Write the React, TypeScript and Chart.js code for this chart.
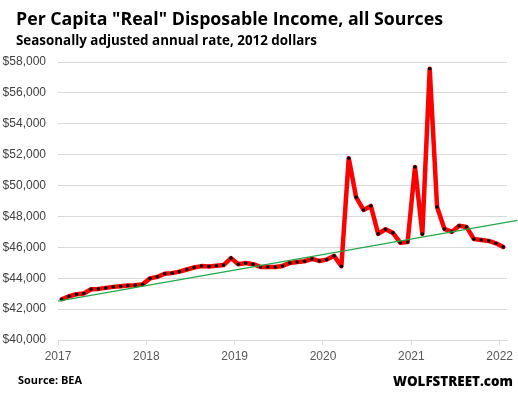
import React, { useEffect, useRef } from 'react';
import { Chart, registerables } from 'chart.js';

Chart.register(...registerables);

// ---- data ----
const yearLabels = ['2017', '2018', '2019', '2020', '2021', '2022'];
const yearTickMonths = [0, 12, 24, 36, 48, 60];

// Monthly, Jan 2017 .. Jan 2022 (2012 dollars, SAAR)
const incomeValues = [
  42640, 42835, 42965, 43010, 43290, 43310, 43375, 43440, 43480, 43530, 43550, 43610,
  43990, 44090, 44290, 44330, 44430, 44565, 44695, 44785, 44760, 44805, 44850, 45300,
  44900, 44990, 44906, 44730, 44730, 44730, 44795, 44990, 45055, 45100, 45250, 45120,
  45205, 45444, 44777, 51770, 49245, 48420, 48680, 46870, 47170, 46935, 46300, 46345,
  51200, 46870, 57560, 48615, 47190, 47000, 47400, 47320, 46540, 46480, 46415, 46260,
  46020,
];

const trendX = [0, 62.4];
const trendY = [42518, 47750];

const yMin = 40000;
const yMax = 58000;
const yStep = 2000;

const titleText = 'Per Capita "Real" Disposable Income, all Sources';
const subtitleText = 'Seasonally adjusted annual rate, 2012 dollars';
const sourceText = 'Source: BEA';
const brandText = 'WOLFSTREET.com';

function drawFitText(
  ctx: CanvasRenderingContext2D,
  text: string,
  x: number,
  y: number,
  font: string,
  width: number,
  color: string
) {
  ctx.save();
  ctx.font = font;
  ctx.fillStyle = color;
  ctx.textBaseline = 'alphabetic';
  ctx.textAlign = 'left';
  const w = ctx.measureText(text).width || 1;
  ctx.translate(x, y);
  ctx.scale(width / w, 1);
  ctx.fillText(text, 0, 0);
  ctx.restore();
}

const textPlugin = {
  id: 'staticTexts',
  afterDraw(chart: any) {
    const ctx = chart.ctx as CanvasRenderingContext2D;
    drawFitText(ctx, titleText, 16, 24.5, 'bold 18px "Open Sans"', 427, '#000000');
    drawFitText(ctx, subtitleText, 16, 45, 'bold 13.5px "Open Sans"', 301, '#000000');
    drawFitText(ctx, sourceText, 18, 384, 'bold 11px "Open Sans"', 64, '#000000');
    drawFitText(ctx, brandText, 393, 385.5, '900 14.5px "Open Sans"', 120, '#000000');
  },
};

export default function App() {
  const canvasRef = useRef<HTMLCanvasElement | null>(null);

  useEffect(() => {
    if (!canvasRef.current) return;
    const incomePoints = incomeValues.map((v, i) => ({ x: i + 0.5, y: v }));
    const trendPoints = trendX.map((x, i) => ({ x, y: trendY[i] }));

    const chart = new Chart(canvasRef.current, {
      type: 'line',
      data: {
        datasets: [
          {
            label: 'Trend',
            data: trendPoints,
            borderColor: '#22a84a',
            borderWidth: 1.2,
            pointRadius: 0,
            tension: 0,
            clip: false as any,
          },
          {
            label: 'Income',
            data: incomePoints,
            borderColor: '#ff0000',
            borderWidth: 4.5,
            borderJoinStyle: 'round',
            borderCapStyle: 'round',
            pointRadius: 1.8,
            pointBackgroundColor: '#000000',
            pointBorderWidth: 0,
            tension: 0,
          },
        ],
      },
      options: {
        animation: false,
        responsive: false,
        devicePixelRatio: 1,
        layout: { padding: { left: 0, right: 11, top: 62, bottom: 0 } },
        plugins: {
          legend: { display: false },
          tooltip: { enabled: false },
        },
        scales: {
          x: {
            type: 'linear',
            min: 0,
            max: 61,
            afterFit: (s: any) => {
              s.height = 53;
            },
            afterBuildTicks: (s: any) => {
              s.ticks = yearTickMonths.map((v) => ({ value: v }));
            },
            grid: {
              drawOnChartArea: false,
              drawTicks: true,
              tickLength: 5,
              color: '#d9d9d9',
            },
            border: { display: true, color: '#d9d9d9', width: 1 },
            ticks: {
              autoSkip: false,
              maxRotation: 0,
              padding: 4,
              color: '#595959',
              font: { family: '"Liberation Sans"', size: 12 },
              callback: (v: any) => {
                const idx = yearTickMonths.indexOf(Number(v));
                return idx >= 0 ? yearLabels[idx] : '';
              },
            },
          },
          y: {
            min: yMin,
            max: yMax,
            afterFit: (s: any) => {
              s.width = 58;
            },
            grid: {
              drawTicks: false,
              color: '#d9d9d9',
              lineWidth: 1,
            },
            border: { display: false },
            ticks: {
              stepSize: yStep,
              padding: 12,
              color: '#404040',
              font: { family: '"Liberation Sans"', size: 12 },
              callback: (v: any) => '$' + Number(v).toLocaleString('en-US'),
            },
          },
        },
      },
      plugins: [textPlugin],
    } as any);

    return () => {
      chart.destroy();
    };
  }, []);

  return (
    <div style={{ position: 'fixed', left: 0, top: 0, width: 518, height: 393, background: '#ffffff' }}>
      <canvas ref={canvasRef} width={518} height={393} style={{ display: 'block' }} />
    </div>
  );
}
